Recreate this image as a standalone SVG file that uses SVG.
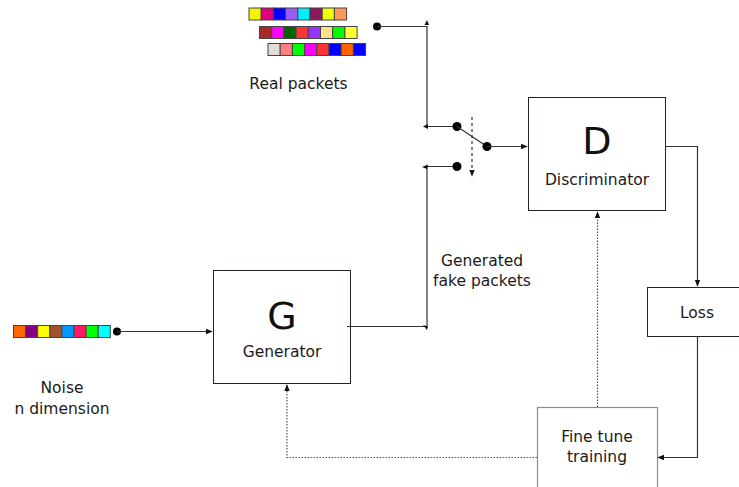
<svg xmlns="http://www.w3.org/2000/svg" width="739" height="487" viewBox="0 0 739 487">
  <style>
    .box { fill: #ffffff; stroke: #2a1f1f; stroke-width: 1; }
    .box-light { fill: #ffffff; stroke: #8c8c8c; stroke-width: 1.2; }
    .lbl { font-family: "DejaVu Sans", Verdana, sans-serif; font-size: 15.5px; fill: #1a1a1a; text-anchor: middle; }
    .big { font-family: "DejaVu Sans", Verdana, sans-serif; font-size: 38px; fill: #111111; text-anchor: middle; }
    .wire { fill: none; stroke: #333333; stroke-width: 1.2; }
    .dotted { fill: none; stroke: #555555; stroke-width: 1.2; stroke-dasharray: 1.5 1.5; }
    .dashed { fill: none; stroke: #333333; stroke-width: 1.2; stroke-dasharray: 3 3; }
    .cell { stroke: #444444; stroke-width: 1; }
    .dot { fill: #000000; }
    .tip { fill: #111111; }
  </style>
  <defs>
    <marker id="arrow" viewBox="0 0 10 10" refX="9" refY="5" markerWidth="7" markerHeight="7" orient="auto" markerUnits="userSpaceOnUse">
      <path d="M0,1 L10,5 L0,9 Z" fill="#111111"/>
    </marker>
  </defs>

  <!-- real packet rows -->
  <g id="real-packets">
    <g transform="translate(249,8)">
      <rect class="cell" x="0" y="0" width="12.2" height="12" fill="#f5f500"/>
      <rect class="cell" x="12.2" y="0" width="12.2" height="12" fill="#e0007a"/>
      <rect class="cell" x="24.4" y="0" width="12.2" height="12" fill="#0000ff"/>
      <rect class="cell" x="36.6" y="0" width="12.2" height="12" fill="#9a5cf0"/>
      <rect class="cell" x="48.8" y="0" width="12.2" height="12" fill="#00eeff"/>
      <rect class="cell" x="61" y="0" width="12.2" height="12" fill="#8b1a5a"/>
      <rect class="cell" x="73.2" y="0" width="12.2" height="12" fill="#eeff00"/>
      <rect class="cell" x="85.4" y="0" width="12.2" height="12" fill="#ff9955"/>
    </g>
    <g transform="translate(259.5,26.5)">
      <rect class="cell" x="0" y="0" width="12.2" height="12" fill="#a52a2a"/>
      <rect class="cell" x="12.2" y="0" width="12.2" height="12" fill="#ff00ff"/>
      <rect class="cell" x="24.4" y="0" width="12.2" height="12" fill="#006400"/>
      <rect class="cell" x="36.6" y="0" width="12.2" height="12" fill="#ff3333"/>
      <rect class="cell" x="48.8" y="0" width="12.2" height="12" fill="#9933ff"/>
      <rect class="cell" x="61" y="0" width="12.2" height="12" fill="#ffe08a"/>
      <rect class="cell" x="73.2" y="0" width="12.2" height="12" fill="#00ff00"/>
      <rect class="cell" x="85.4" y="0" width="12.2" height="12" fill="#ffff33"/>
    </g>
    <g transform="translate(268,43.5)">
      <rect class="cell" x="0" y="0" width="12.2" height="12" fill="#e2ddd8"/>
      <rect class="cell" x="12.2" y="0" width="12.2" height="12" fill="#ff8080"/>
      <rect class="cell" x="24.4" y="0" width="12.2" height="12" fill="#00ff00"/>
      <rect class="cell" x="36.6" y="0" width="12.2" height="12" fill="#ff00ff"/>
      <rect class="cell" x="48.8" y="0" width="12.2" height="12" fill="#ff3333"/>
      <rect class="cell" x="61" y="0" width="12.2" height="12" fill="#0000ff"/>
      <rect class="cell" x="73.2" y="0" width="12.2" height="12" fill="#ff6600"/>
      <rect class="cell" x="85.4" y="0" width="12.2" height="12" fill="#0000ff"/>
    </g>
    <text class="lbl" x="298.5" y="89">Real packets</text>
  </g>

  <!-- noise vector -->
  <g id="noise">
    <g transform="translate(13.5,325.5)">
      <rect class="cell" x="0" y="0" width="12.1" height="12" fill="#ff6600"/>
      <rect class="cell" x="12.1" y="0" width="12.1" height="12" fill="#800080"/>
      <rect class="cell" x="24.2" y="0" width="12.1" height="12" fill="#ffff00"/>
      <rect class="cell" x="36.3" y="0" width="12.1" height="12" fill="#a0522d"/>
      <rect class="cell" x="48.4" y="0" width="12.1" height="12" fill="#0099ff"/>
      <rect class="cell" x="60.5" y="0" width="12.1" height="12" fill="#ff1a66"/>
      <rect class="cell" x="72.6" y="0" width="12.1" height="12" fill="#00ff00"/>
      <rect class="cell" x="84.7" y="0" width="12.1" height="12" fill="#00ffff"/>
    </g>
    <text class="lbl" x="62" y="393">Noise</text>
    <text class="lbl" x="62" y="414">n dimension</text>
  </g>

  <!-- generator -->
  <g id="generator">
    <rect class="box" x="213.5" y="270.5" width="137" height="113"/>
    <text class="big" x="282" y="329">G</text>
    <text class="lbl" x="282" y="357">Generator</text>
  </g>

  <!-- discriminator -->
  <g id="discriminator">
    <rect class="box" x="528.5" y="97.5" width="137" height="113"/>
    <text class="big" x="597" y="154">D</text>
    <text class="lbl" x="597" y="185">Discriminator</text>
  </g>

  <!-- loss -->
  <g id="loss">
    <rect class="box" x="647.5" y="287.5" width="100" height="49"/>
    <text class="lbl" x="697" y="318">Loss</text>
  </g>

  <!-- fine tune -->
  <g id="fine-tune">
    <rect class="box-light" x="537.5" y="407.5" width="120" height="90"/>
    <text class="lbl" x="597" y="442">Fine tune</text>
    <text class="lbl" x="597" y="462">training</text>
  </g>

  <text class="lbl" x="482" y="266">Generated</text>
  <text class="lbl" x="482" y="286">fake packets</text>

  <!-- connectors -->
  <g id="connectors">
    <!-- noise to generator -->
    <circle class="dot" cx="117" cy="331.5" r="4"/>
    <path class="wire" d="M117,331.5 H212" marker-end="url(#arrow)"/>

    <!-- real packets to switch -->
    <circle class="dot" cx="377" cy="26.5" r="4"/>
    <path class="wire" d="M377,26.5 H427 V126.5 H457"/>
    <path class="tip" d="M424.5,25 L427,20 L429,25 Z"/>
    <path class="tip" d="M428,124 L423,126.5 L428,129 Z"/>
    <circle class="dot" cx="457" cy="126.5" r="4.5"/>

    <!-- generator to switch -->
    <path class="wire" d="M347,326.5 H427 V166.5 H457"/>
    <path class="tip" d="M423,325 L428,326.5 L427,330 Z"/>
    <path class="tip" d="M428,164.5 L422,167 L427,169 Z"/>
    <circle class="dot" cx="457" cy="166.5" r="4.5"/>

    <!-- switch lever and output -->
    <path class="wire" d="M457,126.5 L487,146.5"/>
    <circle class="dot" cx="487" cy="146.5" r="4.5"/>
    <path class="wire" d="M487,146.5 H527" marker-end="url(#arrow)"/>
    <path class="dashed" d="M472,117 V176" marker-end="url(#arrow)"/>

    <!-- discriminator to loss -->
    <path class="wire" d="M666,146.5 H697.5 V286" marker-end="url(#arrow)"/>

    <!-- loss to fine tune -->
    <path class="wire" d="M697.5,337 V457.5 H658" marker-end="url(#arrow)"/>

    <!-- fine tune to discriminator -->
    <path class="dotted" d="M597.5,407 V212" marker-end="url(#arrow)"/>

    <!-- fine tune to generator -->
    <path class="dotted" d="M537,457.5 H287 V385" marker-end="url(#arrow)"/>
  </g>
</svg>
